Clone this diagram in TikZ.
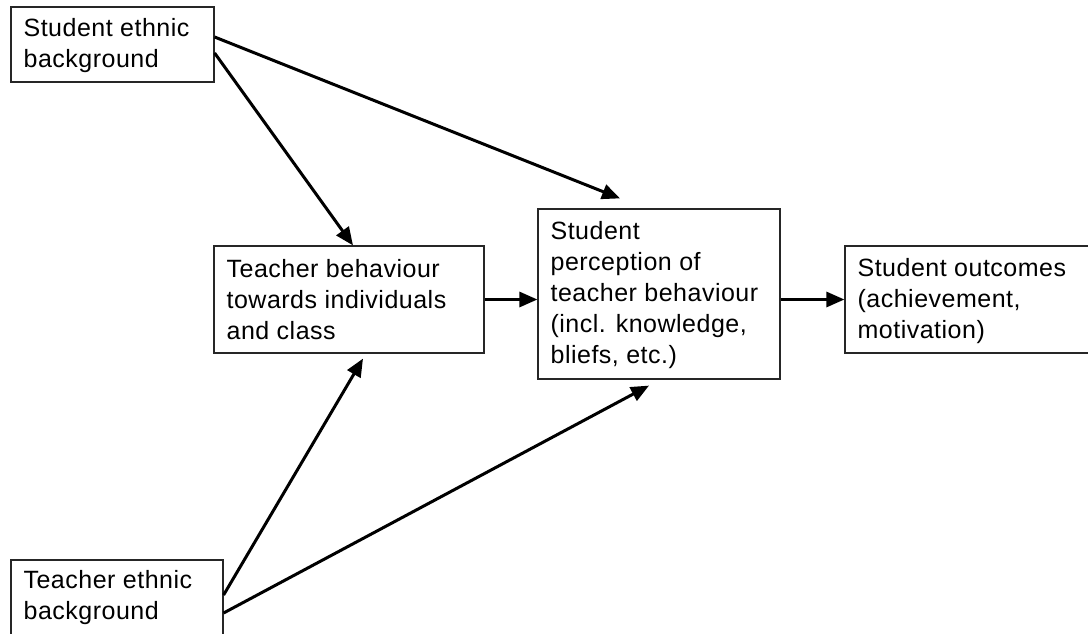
\documentclass[tikz,border=0pt]{standalone}
\usepackage{fontspec}
\setmainfont[LetterSpace=2]{Liberation Sans}
\usetikzlibrary{arrows.meta}
\begin{document}
\begin{tikzpicture}[x=1pt,y=-1pt,
  box/.style={draw=black!85, line width=1.2pt, fill=none, inner sep=0pt},
  txt/.style={anchor=north west, inner xsep=13pt, inner ysep=0pt, align=left,
    font=\fontsize{25}{31}\selectfont},
  arr/.style={line width=3pt, -{Triangle[length=18pt,width=15pt]}}]
\clip (0,0) rectangle (1088,634);
\fill[white] (0,0) rectangle (1088,634);
% boxes
\node[box, minimum width=203pt, minimum height=75pt] (b1) at (112.5,44.5) {};
\node[box, minimum width=270pt, minimum height=107pt] (t) at (349,299.5) {};
\node[box, minimum width=242pt, minimum height=170pt] (p) at (659,294) {};
\node[box, minimum width=260pt, minimum height=107pt] (o) at (975,299.5) {};
\node[box, minimum width=212pt, minimum height=100pt] (e) at (117,610) {};
% texts
\node[txt] (b1t) at (b1.north west) {\rule{0pt}{30pt}Student ethnic\\background};
\node[txt] (tt) at (t.north west) {\rule{0pt}{32pt}Teacher behaviour\\towards individuals\\and class};
\node[txt] (pt) at (p.north west) {\rule{0pt}{31pt}Student\\perception of\\teacher behaviour\\(incl. knowledge,\\bliefs, etc.)};
\node[txt] (ot) at (o.north west) {\rule{0pt}{31pt}Student outcomes\\(achievement,\\motivation)};
\node[txt] (et) at (e.north west) {\rule{0pt}{29pt}Teacher ethnic\\background};
% arrows
\draw[arr] ([yshift=7.5pt]b1.east) -- ([xshift=-39pt,yshift=10pt]p.north);
\draw[arr] ([yshift=-8.5pt]b1.east) -- ([xshift=4pt]t.north);
\draw[arr] ([yshift=15pt]e.east) -- ([xshift=14pt,yshift=-5pt]t.south);
\draw[arr] ([yshift=-3pt]e.east) -- ([xshift=-10pt,yshift=-6pt]p.south);
\draw[arr] (t.east) -- (t.east -| p.west);
\draw[arr] (p.east |- o.west) -- (o.west);
\end{tikzpicture}
\end{document}
